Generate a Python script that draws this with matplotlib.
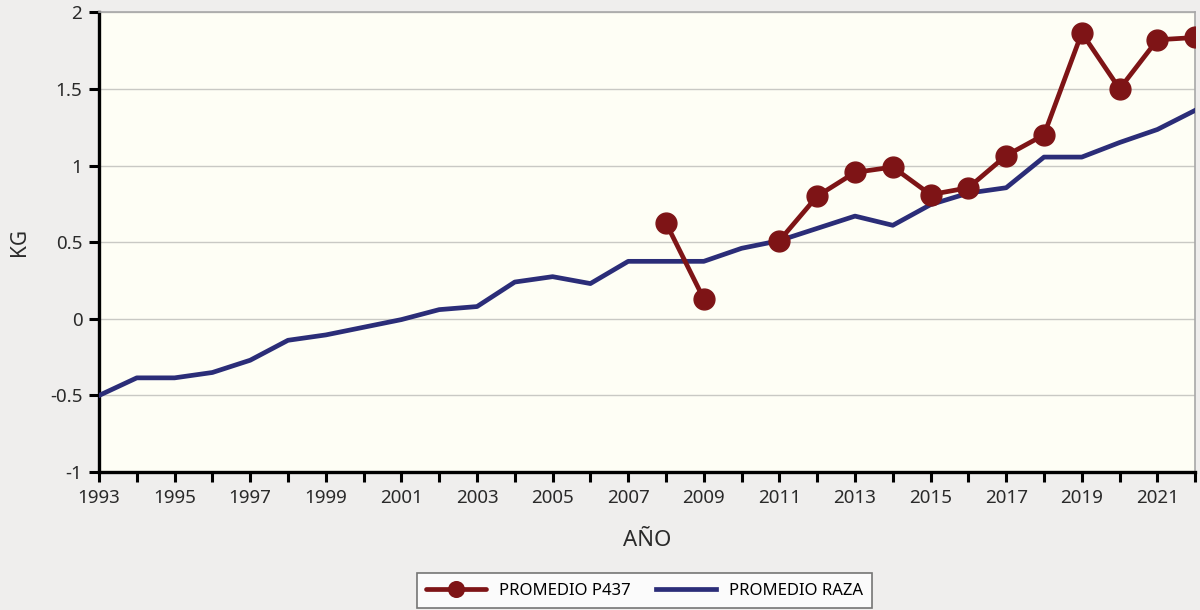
import numpy as np
import matplotlib.pyplot as plt

# data
years = np.arange(1993, 2023)
raza = [-0.50, -0.385, -0.385, -0.35, -0.27, -0.14, -0.105, -0.055, -0.005, 0.06,
        0.08, 0.24, 0.275, 0.23, 0.375, 0.375, 0.375, 0.46, 0.51, 0.59,
        0.67, 0.61, 0.745, 0.82, 0.855, 1.055, 1.055, 1.15, 1.235, 1.36]
p437_years = np.arange(2008, 2023)
p437 = [0.625, 0.13, np.nan, 0.51, 0.80, 0.955, 0.99, 0.81, 0.855, 1.065,
        1.20, 1.865, 1.50, 1.82, 1.835]

red = '#7e1416'
blue = '#2b2d78'
txt = '#2a2a2a'

plt.rcParams['font.family'] = ['Noto Sans', 'DejaVu Sans']

fig = plt.figure(figsize=(12, 6.1), dpi=100, facecolor='#efeeed')
ax = fig.add_axes([0.0825, 0.226, 0.9135, 0.754])
ax.set_facecolor('#fefef5')

l1, = ax.plot(p437_years, p437, color=red, lw=3.4, marker='o', markersize=15,
              label='PROMEDIO P437', zorder=4, solid_capstyle='round')
l2, = ax.plot(years, raza, color=blue, lw=3.4, label='PROMEDIO RAZA', zorder=3)

ax.set_xlim(1993, 2022)
ax.set_ylim(-1, 2)
ax.set_yticks(np.arange(-1, 2.01, 0.5))
ax.set_yticklabels(['-1', '-0.5', '0', '0.5', '1', '1.5', '2'])
ax.set_xticks(years)
ax.set_xticklabels([str(y) if (y - 1993) % 2 == 0 else '' for y in years])
ax.yaxis.grid(True, color='#c9c9c4', lw=1)
ax.set_axisbelow(True)

for s in ['left', 'bottom']:
    ax.spines[s].set_color('black')
    ax.spines[s].set_linewidth(2.4)
for s in ['top', 'right']:
    ax.spines[s].set_color('#a8a8a8')
    ax.spines[s].set_linewidth(1.2)

ax.tick_params(axis='both', direction='out', length=7, width=2.2, color='black',
               labelsize=13.5, labelcolor=txt)
ax.tick_params(axis='x', pad=5)
ax.tick_params(axis='y', pad=5)

ax.set_ylabel('KG', fontsize=15, color=txt, labelpad=14)
ax.set_xlabel('AÑO', fontsize=16, color=txt, labelpad=17)

leg = fig.legend(handles=[l1, l2], loc='lower center', bbox_to_anchor=(0.537, -0.01),
                 ncol=2, frameon=True, fancybox=False, fontsize=12,
                 handlelength=3.6, columnspacing=1.5, borderpad=0.55,
                 markerscale=0.75)
leg.get_frame().set_edgecolor('#555555')
leg.get_frame().set_linewidth(1.2)
leg.get_frame().set_facecolor('white')

fig.savefig('out.png', dpi=100, facecolor=fig.get_facecolor())
